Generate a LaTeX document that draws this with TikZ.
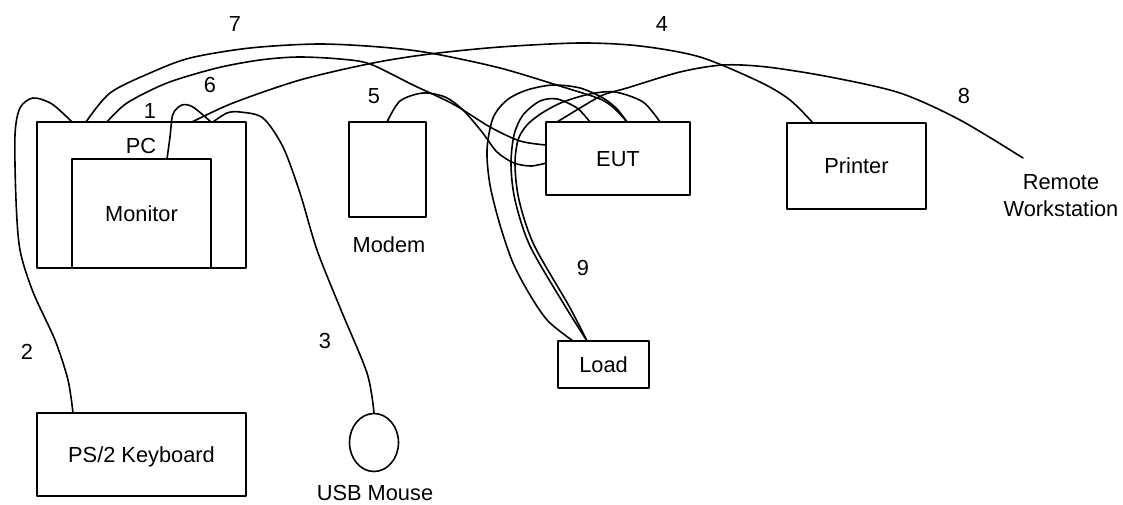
\documentclass[tikz,border=0pt]{standalone}
\usepackage{fontspec}
\setmainfont{Liberation Sans}
\usetikzlibrary{shapes.geometric,calc}
\begin{document}
\begin{tikzpicture}[x=0.5pt,y=-0.5pt,
  every node/.style={font=\fontsize{10.9}{13.35}\selectfont},
  box/.style={draw, line width=0.8pt, rectangle, inner sep=0pt, outer sep=0pt,
              text height=7.8pt, text depth=0pt},
  txt/.style={anchor=base, inner sep=0pt},
  cable/.style={line width=0.8pt, line cap=round},
  line join=round]
\useasboundingbox (0,0) rectangle (1123,504);

% boxes
\node[box, minimum width=104.5pt, minimum height=73pt] (pc) at (141.5,195) {};
\node[box, minimum width=69.5pt, minimum height=54.5pt] (mon) at (141.5,213.5) {Monitor};
\node[txt] (pclabel) at (141,153) {PC};
\node[box, minimum width=38.5pt, minimum height=47.5pt] (modem) at (387.5,169.5) {};
\node[txt] (modemlabel) at (389,252) {Modem};
\node[box, minimum width=72pt, minimum height=36.5pt] (eut) at (618,158.5) {EUT};
\node[box, minimum width=69.5pt, minimum height=43pt] (printer) at (856.5,166) {Printer};
\node[txt, align=center] (remote) at (1061,216.5) {Remote\\Workstation};
\node[box, minimum width=45.5pt, minimum height=23.5pt] (load) at (603.5,364.5) {Load};
\node[box, minimum width=104.5pt, minimum height=41.5pt] (kbd) at (141.5,454.5) {PS/2 Keyboard};
\node[draw, ellipse, line width=0.8pt, inner sep=0pt, minimum width=24.5pt, minimum height=29pt] (mouse) at (374,442.5) {};
\node[txt] (mouselabel) at (375,500) {USB Mouse};

% cable numbers
\node[txt] (n1) at (150,118) {1};
\node[txt] (n2) at (27,359) {2};
\node[txt] (n3) at (325,348.5) {3};
\node[txt] (n4) at (662,31.5) {4};
\node[txt] (n5) at (374,103) {5};
\node[txt] (n6) at (210,92) {6};
\node[txt] (n7) at (235,31.5) {7};
\node[txt] (n8) at (964,103) {8};
\node[txt] (n9) at (583,275) {9};

% ports
\coordinate (pc2) at ($(pc.north west)+(35,0)$);
\coordinate (pc7) at ($(pc.north west)+(49,0)$);
\coordinate (pc6) at ($(pc.north west)+(70,0)$);
\coordinate (pc4) at ($(pc.north west)+(155,0)$);
\coordinate (pc1) at ($(pc.north west)+(174,0)$);
\coordinate (pc3) at ($(pc.north west)+(176,0)$);
\coordinate (mon1) at ($(mon.north west)+(95,0)$);
\coordinate (mod5) at ($(modem.north west)+(38,0)$);
\coordinate (eut8) at ($(eut.north west)+(11,0)$);
\coordinate (eut9b) at ($(eut.north west)+(44,0)$);
\coordinate (eut7) at ($(eut.north west)+(81,0)$);
\coordinate (eut9c) at ($(eut.north west)+(114,0)$);
\coordinate (eut6) at ($(eut.north west)+(0,23)$);
\coordinate (eut5) at ($(eut.north west)+(0,41)$);
\coordinate (prn4) at ($(printer.north west)+(26,0)$);
\coordinate (loadA) at ($(load.north west)+(15,0)$);
\coordinate (loadB) at ($(load.north west)+(29,0)$);
\coordinate (kbd2) at ($(kbd.north west)+(36,0)$);
\coordinate (rw) at (1023,158);

% cables
\draw[cable] plot[smooth] coordinates {(pc2) (52,104) (33,98) (20,108) (15,135) (16,200) (20,250) (33,292) (55,340) (68,380) (kbd2)};
\draw[cable] plot[smooth] coordinates {(mon1) (170,137) (173,114) (182,105) (193,107) (pc1)};
\draw[cable] plot[smooth] coordinates {(pc3) (227,113) (240,112) (263,118) (283,147) (300,193) (317,250) (341,310) (367,373) (mouse.north)};
\draw[cable] plot[smooth] coordinates {(pc7) (110,93) (150,73) (190,58) (250,48) (318,44) (380,47) (430,53) (500,68) (563,87) (600,99) (615,109) (eut7)};
\draw[cable] plot[smooth] coordinates {(pc6) (127,103) (167,83) (217,68) (260,60) (298,57) (340,59) (370,64) (413,85) (453,104) (490,127) (520,141) (eut6)};
\draw[cable] plot[smooth] coordinates {(pc4) (233,103) (300,80) (373,63) (430,54) (500,47) (580,43) (640,46) (700,57) (760,82) (790,100) (prn4)};
\draw[cable] plot[smooth] coordinates {(mod5) (400,101) (423,93) (445,97) (463,110) (482,132) (497,152) (514,163) (531,166) (eut5)};
\draw[cable] plot[smooth] coordinates {(eut8) (580,108) (603,95) (627,88) (680,72) (723,65) (767,67) (830,77) (900,93) (960,120) (rw)};
\draw[cable] plot[smooth] coordinates {(loadA) (548,321) (530,295) (513,263) (500,225) (490,185) (487,150) (493,118) (507,100) (527,90) (553,85) (580,88) (603,98) (617,109) (eut7)};
\draw[cable] plot[smooth] coordinates {(loadB) (565,306) (530,246) (515,200) (511,165) (514,135) (523,115) (540,101) (557,99) (577,108) (eut9b)};
\draw[cable] plot[smooth] coordinates {(loadB) (569,306) (534,245) (519,200) (515,165) (518,140) (527,125) (542,113) (563,102) (590,94) (615,92) (643,102) (eut9c)};
\end{tikzpicture}
\end{document}
